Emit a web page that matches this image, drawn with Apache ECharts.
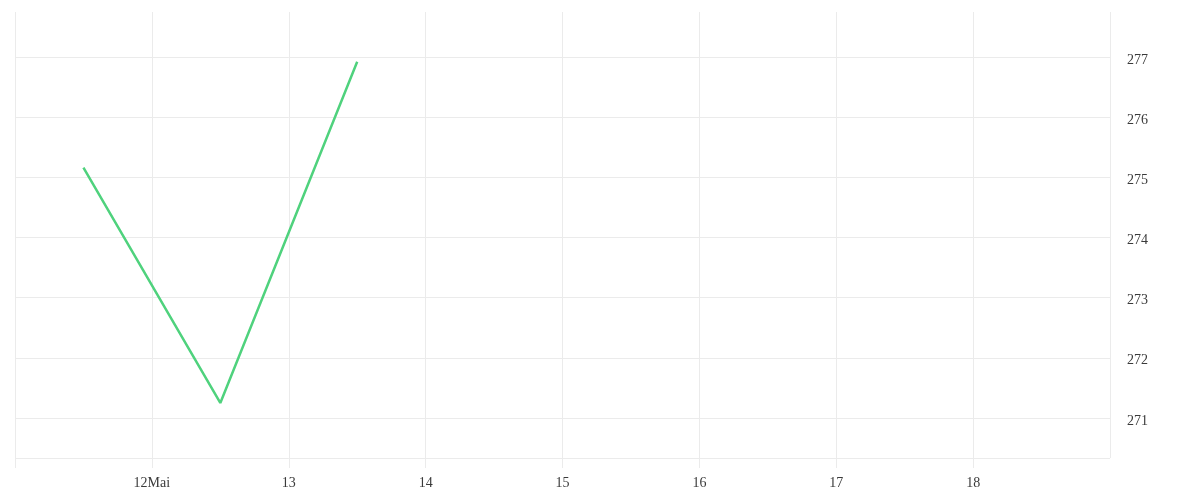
<!DOCTYPE html>
<html>
<head>
<meta charset="utf-8">
<script src="https://cdn.jsdelivr.net/npm/echarts@6/dist/echarts.min.js"></script>
<style>html,body{margin:0;padding:0;background:#fff}#c{width:1200px;height:500px}</style>
</head>
<body>
<div id="c"></div>
<script>
const times = ['2024-05-11T12:00', '2024-05-12T12:00', '2024-05-13T12:00'];
const values = [275.16, 271.25, 276.92];
const xTickLabels = {12: '12Mai', 13: '13', 14: '14', 15: '15', 16: '16', 17: '17', 18: '18'};
const yMin = 270.335, yMax = 277.748;

function toDate(s) {
  const [d, t] = s.split('T');
  const [y, m, dd] = d.split('-').map(Number);
  const [hh, mm] = t.split(':').map(Number);
  return new Date(y, m - 1, dd, hh, mm).getTime();
}
const data = times.map((t, i) => [toDate(t), values[i]]);

const chart = echarts.init(document.getElementById('c'));
const font = 'Liberation Serif';
chart.setOption({
  animation: false,
  backgroundColor: '#fff',
  grid: {left: 15, right: 90, top: 12, bottom: 42, containLabel: false},
  xAxis: {
    type: 'time',
    min: new Date(2024, 4, 11).getTime(),
    max: new Date(2024, 4, 19).getTime(),
    minInterval: 86400000,
    maxInterval: 86400000,
    axisLine: {show: false},
    axisTick: {show: true, length: 10, lineStyle: {color: '#ebebeb'}},
    splitLine: {show: true, lineStyle: {color: '#ebebeb', width: 1}},
    axisLabel: {
      showMinLabel: false, showMaxLabel: false,
      color: '#3a3a3a', fontFamily: font, fontSize: 14, margin: 18,
      formatter: function (v) { const d = new Date(v).getDate(); return xTickLabels[d] || ''; }
    }
  },
  yAxis: {
    type: 'value',
    position: 'right',
    min: yMin, max: yMax,
    splitNumber: 7,
    axisLine: {show: false},
    axisTick: {show: false},
    splitLine: {show: true, showMinLine: true, showMaxLine: false, lineStyle: {color: '#ebebeb', width: 1}},
    axisLabel: {
      showMinLabel: false, showMaxLabel: false,
      color: '#3a3a3a', fontFamily: font, fontSize: 14, margin: 17,
      formatter: function (v) { return Math.abs(v - Math.round(v)) < 1e-6 ? '{a|' + Math.round(v) + '}' : ''; },
      rich: {a: {color: '#3a3a3a', fontFamily: font, fontSize: 14, padding: [6, 0, 0, 0]}}
    }
  },
  series: [{
    type: 'line',
    data: data,
    showSymbol: false,
    lineStyle: {color: '#4fd27d', width: 2.5},
    itemStyle: {color: '#4fd27d'}
  }]
});
</script>
</body>
</html>
